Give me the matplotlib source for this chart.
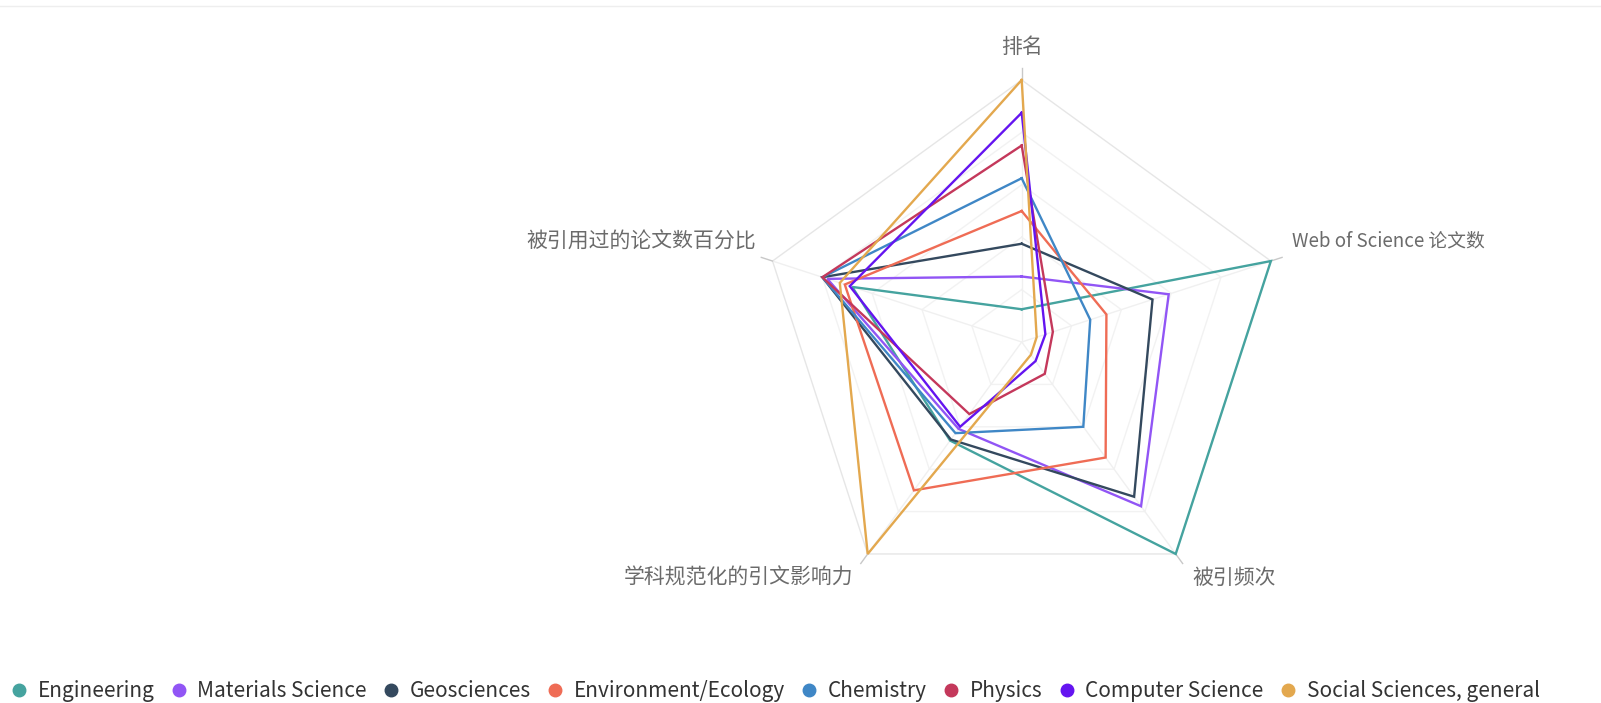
import numpy as np
import matplotlib
matplotlib.use("Agg")
import matplotlib.pyplot as plt
from matplotlib.lines import Line2D

plt.rcParams['font.family'] = ['Noto Sans CJK SC', 'DejaVu Sans']

# ---------------- data ----------------
indicators = ['排名', 'Web of Science 论文数', '被引频次',
              '学科规范化的引文影响力', '被引用过的论文数百分比']
series_names = ['Engineering', 'Materials Science', 'Geosciences',
                'Environment/Ecology', 'Chemistry', 'Physics',
                'Computer Science', 'Social Sciences, general']

engineering   = [0.125, 1.00, 1.00, 0.465, 0.68]
materials     = [0.250, 0.59, 0.775, 0.41, 0.78]
geosciences   = [0.375, 0.525, 0.73, 0.46, 0.80]
environment   = [0.500, 0.34, 0.545, 0.70, 0.71]
chemistry     = [0.625, 0.275, 0.40, 0.43, 0.80]
physics       = [0.750, 0.125, 0.15, 0.34, 0.80]
computer_sci  = [0.875, 0.095, 0.09, 0.40, 0.69]
social_sci    = [1.000, 0.06, 0.06, 1.00, 0.73]

series_values = [engineering, materials, geosciences, environment,
                 chemistry, physics, computer_sci, social_sci]

colors = ['#45a39f', '#9155f5', '#34495e', '#ef6c55',
          '#3f87c6', '#c4385b', '#6414f0', '#e3a84e']

# ---------------- layout ----------------
W, H = 1601, 703
fig = plt.figure(figsize=(W / 100, H / 100), dpi=100)
fig.patch.set_facecolor('white')

def fx(px):
    return px / W

def fy(py):
    return (H - py) / H

cx, cy, R = 1021.7, 342.0, 262.0
ax = fig.add_axes([fx(cx - R), fy(cy + R), 2 * R / W, 2 * R / H],
                  projection='polar')
ax.set_theta_offset(np.pi / 2)
ax.set_theta_direction(-1)
ax.set_ylim(0, 1)
ax.set_axis_off()

n = len(indicators)
angles = np.linspace(0, 2 * np.pi, n, endpoint=False)
closed = np.concatenate([angles, angles[:1]])

# grid pentagons
for lvl in [0.2, 0.4, 0.6, 0.8, 1.0]:
    ax.plot(closed, [lvl] * (n + 1), color='#e6e6e6' if lvl == 1.0 else '#f2f2f2',
            lw=1.0, zorder=1, clip_on=False)
# axis lines
for a in angles:
    ax.plot([a, a], [0, 1.0], color='#f0f0f0', lw=1.0, zorder=1, clip_on=False)
    ax.plot([a, a], [1.0, 1.045], color='#c8c8c8', lw=1.0, zorder=1, clip_on=False)

# series
for vals, col in zip(series_values, colors):
    v = list(vals) + [vals[0]]
    ax.plot(closed, v, color=col, lw=1.7, zorder=3, clip_on=False,
            solid_joinstyle='miter')

# indicator labels
lab_color = '#6b6b6b'
fs = 15
fig.text(fx(1021.7), fy(46.5), indicators[0], ha='center', va='center',
         fontsize=fs, color=lab_color)
fig.text(fx(1291.5), fy(240.5), indicators[1], ha='left', va='center',
         fontsize=13.5, color=lab_color)
fig.text(fx(1192), fy(578), indicators[2], ha='left', va='center',
         fontsize=fs, color=lab_color)
fig.text(fx(853), fy(578), indicators[3], ha='right', va='center',
         fontsize=fs, color=lab_color)
fig.text(fx(756), fy(241.5), indicators[4], ha='right', va='center',
         fontsize=fs, color=lab_color)

# top border line
fig.add_artist(Line2D([0, 1], [fy(6), fy(6)], color='#eeeeee', lw=1.0))

# legend
handles = [Line2D([], [], marker='o', linestyle='none', markersize=9,
                  markerfacecolor=c, markeredgecolor=c) for c in colors]
leg = fig.legend(handles, series_names, loc='center left',
                 bbox_to_anchor=(fx(12.6), fy(691)), ncol=8, frameon=False,
                 fontsize=15, handlelength=0.6, handletextpad=0.6,
                 columnspacing=0.86, borderpad=0, borderaxespad=0)
for t in leg.get_texts():
    t.set_color('#333333')

fig.savefig('out.png', dpi=100, facecolor='white')
